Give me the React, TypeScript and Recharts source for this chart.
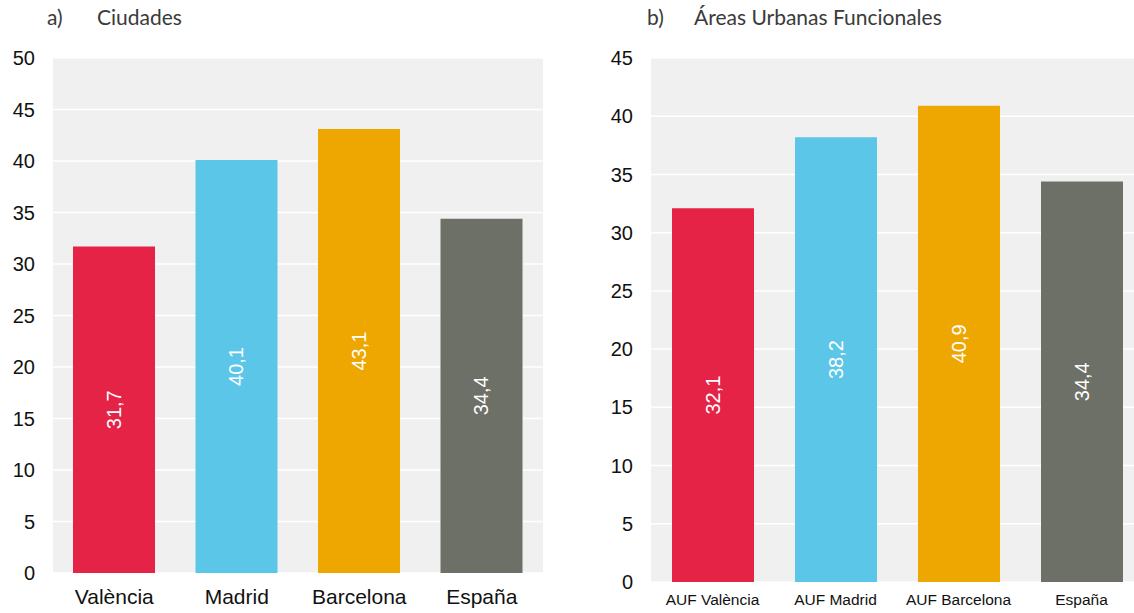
import React from "react";
import { BarChart, Bar, XAxis, YAxis, CartesianGrid, Cell, LabelList } from "recharts";

const cityCategories = ["València", "Madrid", "Barcelona", "España"];
const cityValues = [31.7, 40.1, 43.1, 34.4];
const aufCategories = ["AUF València", "AUF Madrid", "AUF Barcelona", "España"];
const aufValues = [32.1, 38.2, 40.9, 34.4];
const barColors = ["#E52347", "#5CC6E8", "#EEA600", "#6D7066"];
const cityTicks = [0, 5, 10, 15, 20, 25, 30, 35, 40, 45, 50];
const aufTicks = [0, 5, 10, 15, 20, 25, 30, 35, 40, 45];

const cityData = cityCategories.map((name, i) => ({ name, value: cityValues[i] }));
const aufData = aufCategories.map((name, i) => ({ name, value: aufValues[i] }));

const fmt = (v: number) => v.toFixed(1).replace(".", ",");

const VerticalLabel = (props: any) => {
  const { x, y, width, height, value } = props;
  const cx = x + width / 2;
  const cy = y + height / 2;
  return (
    <text
      x={cx}
      y={cy}
      fill="#ffffff"
      fontSize={20}
      fontFamily="'Liberation Sans', Arial, sans-serif"
      textAnchor="middle"
      dominantBaseline="central"
      transform={`rotate(-90, ${cx}, ${cy})`}
    >
      {fmt(value)}
    </text>
  );
};

const font = "'Liberation Sans', Arial, sans-serif";

const titleStyle: React.CSSProperties = {
  position: "absolute",
  fontFamily: "Lato, sans-serif",
  fontSize: 21,
  color: "#3a3a3a",
  lineHeight: "22px",
};

export default function App() {
  return (
    <div
      style={{
        position: "fixed",
        left: 0,
        top: 0,
        width: 1134,
        height: 613,
        overflow: "hidden",
        background: "#ffffff",
      }}
    >
      <div style={{ ...titleStyle, left: 47, top: 6 }}>a)</div>
      <div style={{ ...titleStyle, left: 97, top: 6 }}>Ciudades</div>
      <div style={{ ...titleStyle, left: 647, top: 6 }}>b)</div>
      <div style={{ ...titleStyle, left: 694, top: 6 }}>Áreas Urbanas Funcionales</div>

      <div style={{ position: "absolute", left: 0, top: 0 }}>
        <BarChart
          width={560}
          height={613}
          data={cityData}
          margin={{ top: 58, right: 17, bottom: 0, left: 0 }}
        >
          <CartesianGrid vertical={false} stroke="#ffffff" strokeWidth={1.5} fill="#F0F0F0" />
          <XAxis
            dataKey="name"
            axisLine={false}
            tickLine={false}
            tickSize={0}
            tickMargin={16}
            height={40}
            interval={0}
            tick={{ fontSize: 21, fill: "#111", fontFamily: font }}
          />
          <YAxis
            domain={[0, 50]}
            ticks={cityTicks}
            axisLine={false}
            tickLine={false}
            tickSize={0}
            tickMargin={18}
            width={53}
            interval={0}
            tick={{ fontSize: 20, fill: "#111", fontFamily: font }}
          />
          <Bar dataKey="value" barSize={82} isAnimationActive={false}>
            {cityData.map((d, i) => (
              <Cell key={d.name} fill={barColors[i]} />
            ))}
            <LabelList dataKey="value" content={VerticalLabel} />
          </Bar>
        </BarChart>
      </div>

      <div style={{ position: "absolute", left: 580, top: 0 }}>
        <BarChart
          width={580}
          height={613}
          data={aufData}
          margin={{ top: 58, right: 17, bottom: 0, left: 0 }}
        >
          <CartesianGrid vertical={false} stroke="#ffffff" strokeWidth={1.5} fill="#F0F0F0" />
          <XAxis
            dataKey="name"
            axisLine={false}
            tickLine={false}
            tickSize={0}
            tickMargin={12}
            height={31}
            interval={0}
            tick={{ fontSize: 15.5, fill: "#111", fontFamily: font }}
          />
          <YAxis
            domain={[0, 45]}
            ticks={aufTicks}
            axisLine={false}
            tickLine={false}
            tickSize={0}
            tickMargin={18}
            width={71}
            interval={0}
            tick={{ fontSize: 20, fill: "#111", fontFamily: font }}
          />
          <Bar dataKey="value" barSize={82} isAnimationActive={false}>
            {aufData.map((d, i) => (
              <Cell key={d.name} fill={barColors[i]} />
            ))}
            <LabelList dataKey="value" content={VerticalLabel} />
          </Bar>
        </BarChart>
      </div>
    </div>
  );
}
